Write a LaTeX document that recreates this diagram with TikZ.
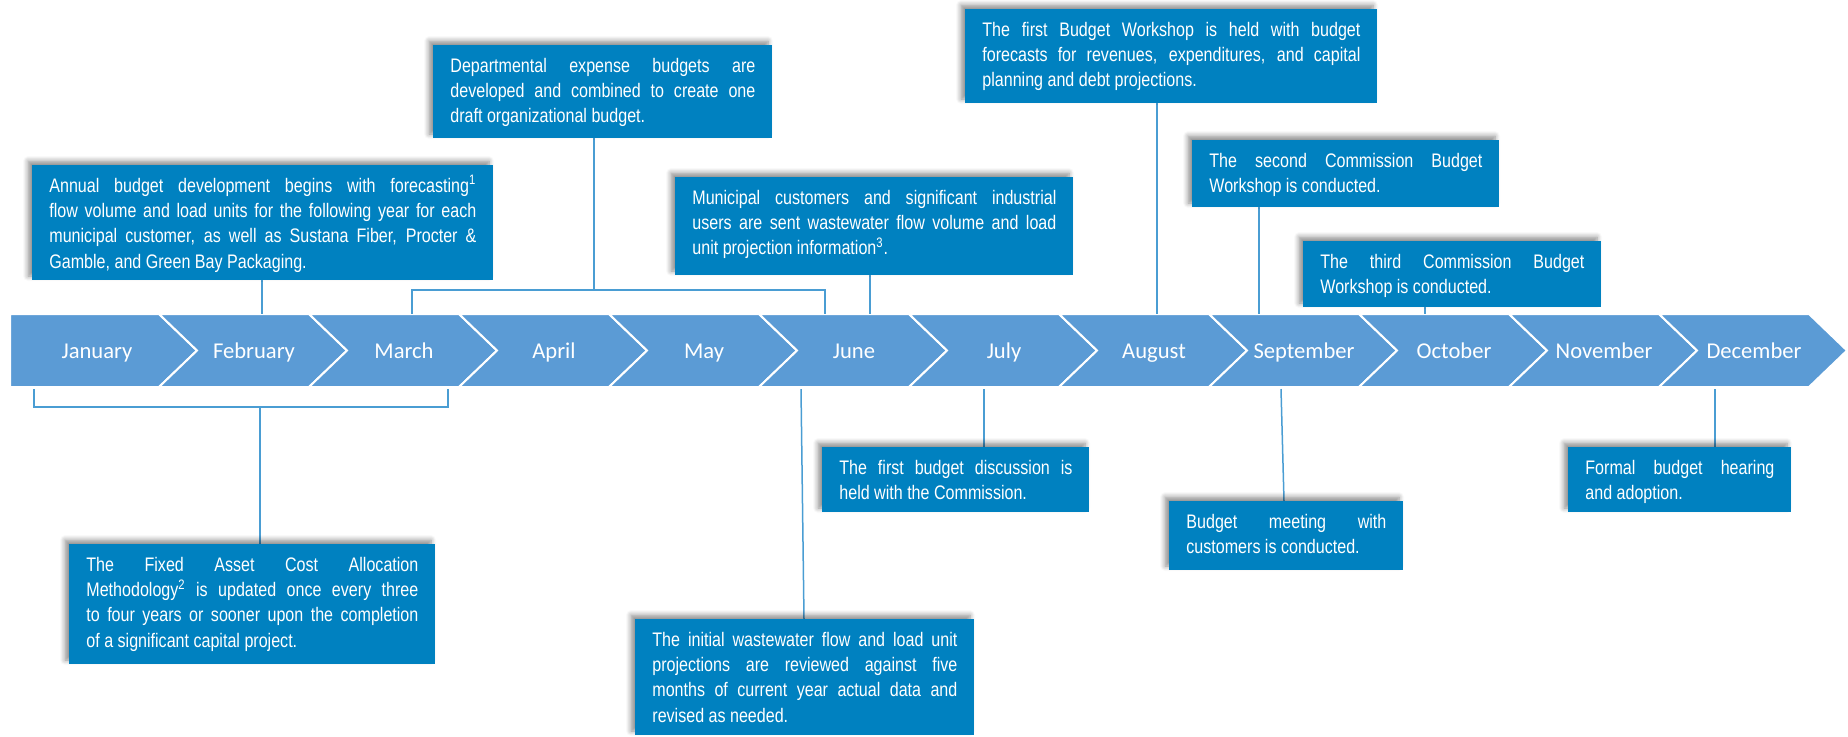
\documentclass[tikz,border=0pt]{standalone}
\usepackage{fontspec}
\setmainfont{Liberation Sans}
\newfontfamily\boxfont{Liberation Sans}[FakeStretch=0.82]
\newfontfamily\monthfont{Carlito}
\usetikzlibrary{shadows.blur,fit,calc}
\definecolor{bandblue}{HTML}{5B9BD5}
\definecolor{boxblue}{RGB}{0,129,192}
\definecolor{linkblue}{HTML}{4A9DD3}
\tikzset{
  seg/.style={fill=bandblue, draw=white, line width=1pt, line join=miter},
  month/.style={text=white, font=\monthfont\fontsize{11.3}{13}\selectfont, anchor=base, inner sep=0},
  evbox/.style={fill=boxblue, inner sep=0, outer sep=0,
    blur shadow={shadow xshift=-2pt, shadow yshift=2pt, shadow blur radius=2.5pt, shadow blur steps=6, shadow opacity=45}},
  evtext/.style={text=white, anchor=base west, inner sep=0, font=\boxfont\fontsize{9.8}{12.7}\selectfont},
  link/.style={draw=linkblue, line width=0.75pt},
}
% name, x1, y1, x2, y2, text
\newcommand\EventBox[6]{%
  \path (#2,#3) coordinate (#1nw) (#4,#5) coordinate (#1se);
  \node[evbox, fit=(#1nw)(#1se)] (#1) {};
  \node[evtext] (#1t) at ($(#1nw)+(17,27)$) {\parbox[t]{\dimexpr 0.5pt*(#4-#2-34)\relax}{#6}};
}
\begin{document}
\begin{tikzpicture}[x=0.5pt,y=-0.5pt]
\useasboundingbox (0,0) rectangle (1848,736);
% chevron band
\path[seg] (10,314) -- (159,314) -- (197,350.5) -- (159,387) -- (10,387) -- cycle;
\node[month] (m1) at (97,358) {January};
\foreach \k/\mname in {1/February,2/March,3/April,4/May,5/June,6/July,7/August,8/September,9/October,10/November,11/December}{
  \pgfmathsetmacro\L{159+150*(\k-1)}
  \path[seg] (\L,314) -- ++(150,0) -- ++(38,36.5) -- ++(-38,36.5) -- ++(-150,0) -- ++(38,-36.5) -- cycle;
  \node[month] (m\k x) at (\L+95,358) {\mname};
}
% band anchor points
\coordinate (tA) at (262,314);
\coordinate (brBl) at (412,314);
\coordinate (brBr) at (825,314);
\coordinate (brBm) at (594,290);
\coordinate (tC) at (870,314);
\coordinate (tD) at (1157,314);
\coordinate (tE) at (1259,314);
\coordinate (tF) at (1425,314);
\coordinate (brGl) at (34,389);
\coordinate (brGr) at (448,389);
\coordinate (brGm) at (260,407);
\coordinate (tH) at (984,389);
\coordinate (tI) at (801,389);
\coordinate (tJ) at (1281,389);
\coordinate (tK) at (1715,389);
% boxes (positions)
\path (262,280) coordinate (pA) (594,138) coordinate (pB) (870,275) coordinate (pC)
      (1157,103) coordinate (pD) (1259,207) coordinate (pE) (1425,307) coordinate (pF)
      (260,544) coordinate (pG) (984,447) coordinate (pH) (804,619) coordinate (pI)
      (1284,501) coordinate (pJ) (1715,447) coordinate (pK);
% connectors
\draw[link] (pA) -- (tA);
\draw[link] (pB) -- (brBm);
\draw[link] (brBl) |- (brBm) -| (brBr);
\draw[link] (pC) -- (tC);
\draw[link] (pD) -- (tD);
\draw[link] (pE) -- (tE);
\draw[link] (pF) -- (tF);
\draw[link] (brGl) |- (brGm) -| (brGr);
\draw[link] (brGm) -- (pG);
\draw[link] (tH) -- (pH);
\draw[link] (tI) -- (pI);
\draw[link] (tJ) -- (pJ);
\draw[link] (tK) -- (pK);
% event boxes
\EventBox{bA}{32}{165}{493}{280}{Annual budget development begins with forecasting\textsuperscript{1}\linebreak flow volume and load units for the following year for each\linebreak municipal customer, as well as Sustana Fiber, Procter \&\linebreak Gamble, and Green Bay Packaging.}
\EventBox{bB}{433}{45}{772}{138}{Departmental expense budgets are\linebreak developed and combined to create one\linebreak draft organizational budget.}
\EventBox{bC}{675}{177}{1073}{275}{Municipal customers and significant industrial\linebreak users are sent wastewater flow volume and load\linebreak unit projection information\textsuperscript{3}.}
\EventBox{bD}{965}{9}{1377}{103}{The first Budget Workshop is held with budget\linebreak forecasts for revenues, expenditures, and capital\linebreak planning and debt projections.}
\EventBox{bE}{1192}{140}{1499}{207}{The second Commission Budget\linebreak Workshop is conducted.}
\EventBox{bF}{1303}{241}{1601}{307}{The third Commission Budget\linebreak Workshop is conducted.}
\EventBox{bG}{69}{544}{435}{664}{The Fixed Asset Cost Allocation\linebreak Methodology\textsuperscript{2} is updated once every three\linebreak to four years or sooner upon the completion\linebreak of a significant capital project.}
\EventBox{bH}{822}{447}{1089}{512}{The first budget discussion is\linebreak held with the Commission.}
\EventBox{bI}{635}{619}{974}{735}{The initial wastewater flow and load unit\linebreak projections are reviewed against five\linebreak months of current year actual data and\linebreak revised as needed.}
\EventBox{bJ}{1169}{501}{1403}{570}{Budget meeting with\linebreak customers is conducted.}
\EventBox{bK}{1568}{447}{1791}{512}{Formal budget hearing\linebreak and adoption.}
\end{tikzpicture}
\end{document}
